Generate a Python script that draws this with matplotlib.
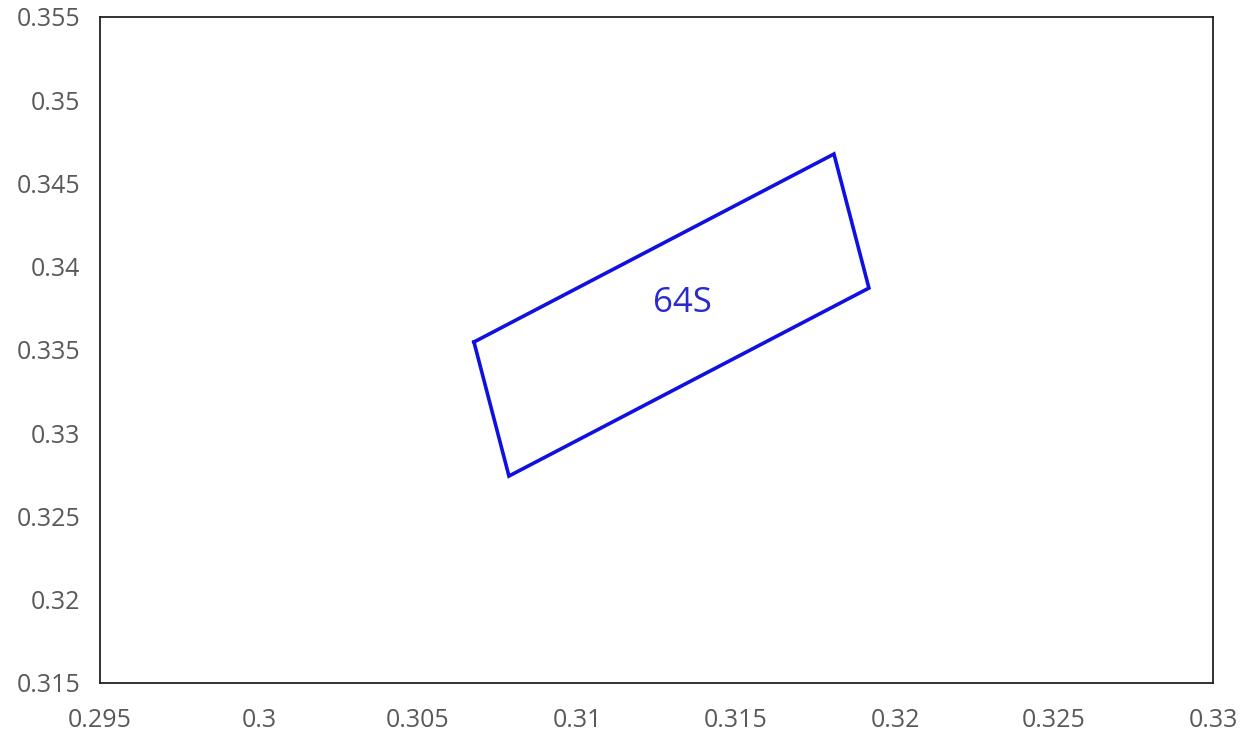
import matplotlib
matplotlib.use("Agg")
import matplotlib.pyplot as plt

# Data
poly_x = [0.30676, 0.31808, 0.31918, 0.30786]
poly_y = [0.33548, 0.34677, 0.33872, 0.32743]
label_text = "64S"
label_xy = (0.31333, 0.33782)

x_ticks = [0.295, 0.3, 0.305, 0.31, 0.315, 0.32, 0.325, 0.33]
x_labels = ["0.295", "0.3", "0.305", "0.31", "0.315", "0.32", "0.325", "0.33"]
y_ticks = [0.315, 0.32, 0.325, 0.33, 0.335, 0.34, 0.345, 0.35, 0.355]
y_labels = ["0.315", "0.32", "0.325", "0.33", "0.335", "0.34", "0.345", "0.35", "0.355"]

plt.rcParams['font.family'] = ['Open Sans', 'DejaVu Sans']

fig = plt.figure(figsize=(12.51, 7.35), dpi=100)
ax = fig.add_axes([100/1251, 52/735, 1113/1251, 666/735])

ax.plot(poly_x + poly_x[:1], poly_y + poly_y[:1], color="#1010E0", linewidth=2.6,
        solid_joinstyle="miter")
ax.text(label_xy[0], label_xy[1], label_text, color="#2A2ACC", fontsize=25,
        ha="center", va="center")

ax.set_xlim(0.295, 0.33)
ax.set_ylim(0.315, 0.355)
ax.set_xticks(x_ticks)
ax.set_xticklabels(x_labels)
ax.set_yticks(y_ticks)
ax.set_yticklabels(y_labels)
ax.tick_params(axis="both", length=0, labelsize=18, labelcolor="#595959")
ax.tick_params(axis="x", pad=18)
ax.tick_params(axis="y", pad=14)
for s in ax.spines.values():
    s.set_color("#222222")
    s.set_linewidth(1.3)

fig.savefig("out.png", dpi=100, facecolor="white")
